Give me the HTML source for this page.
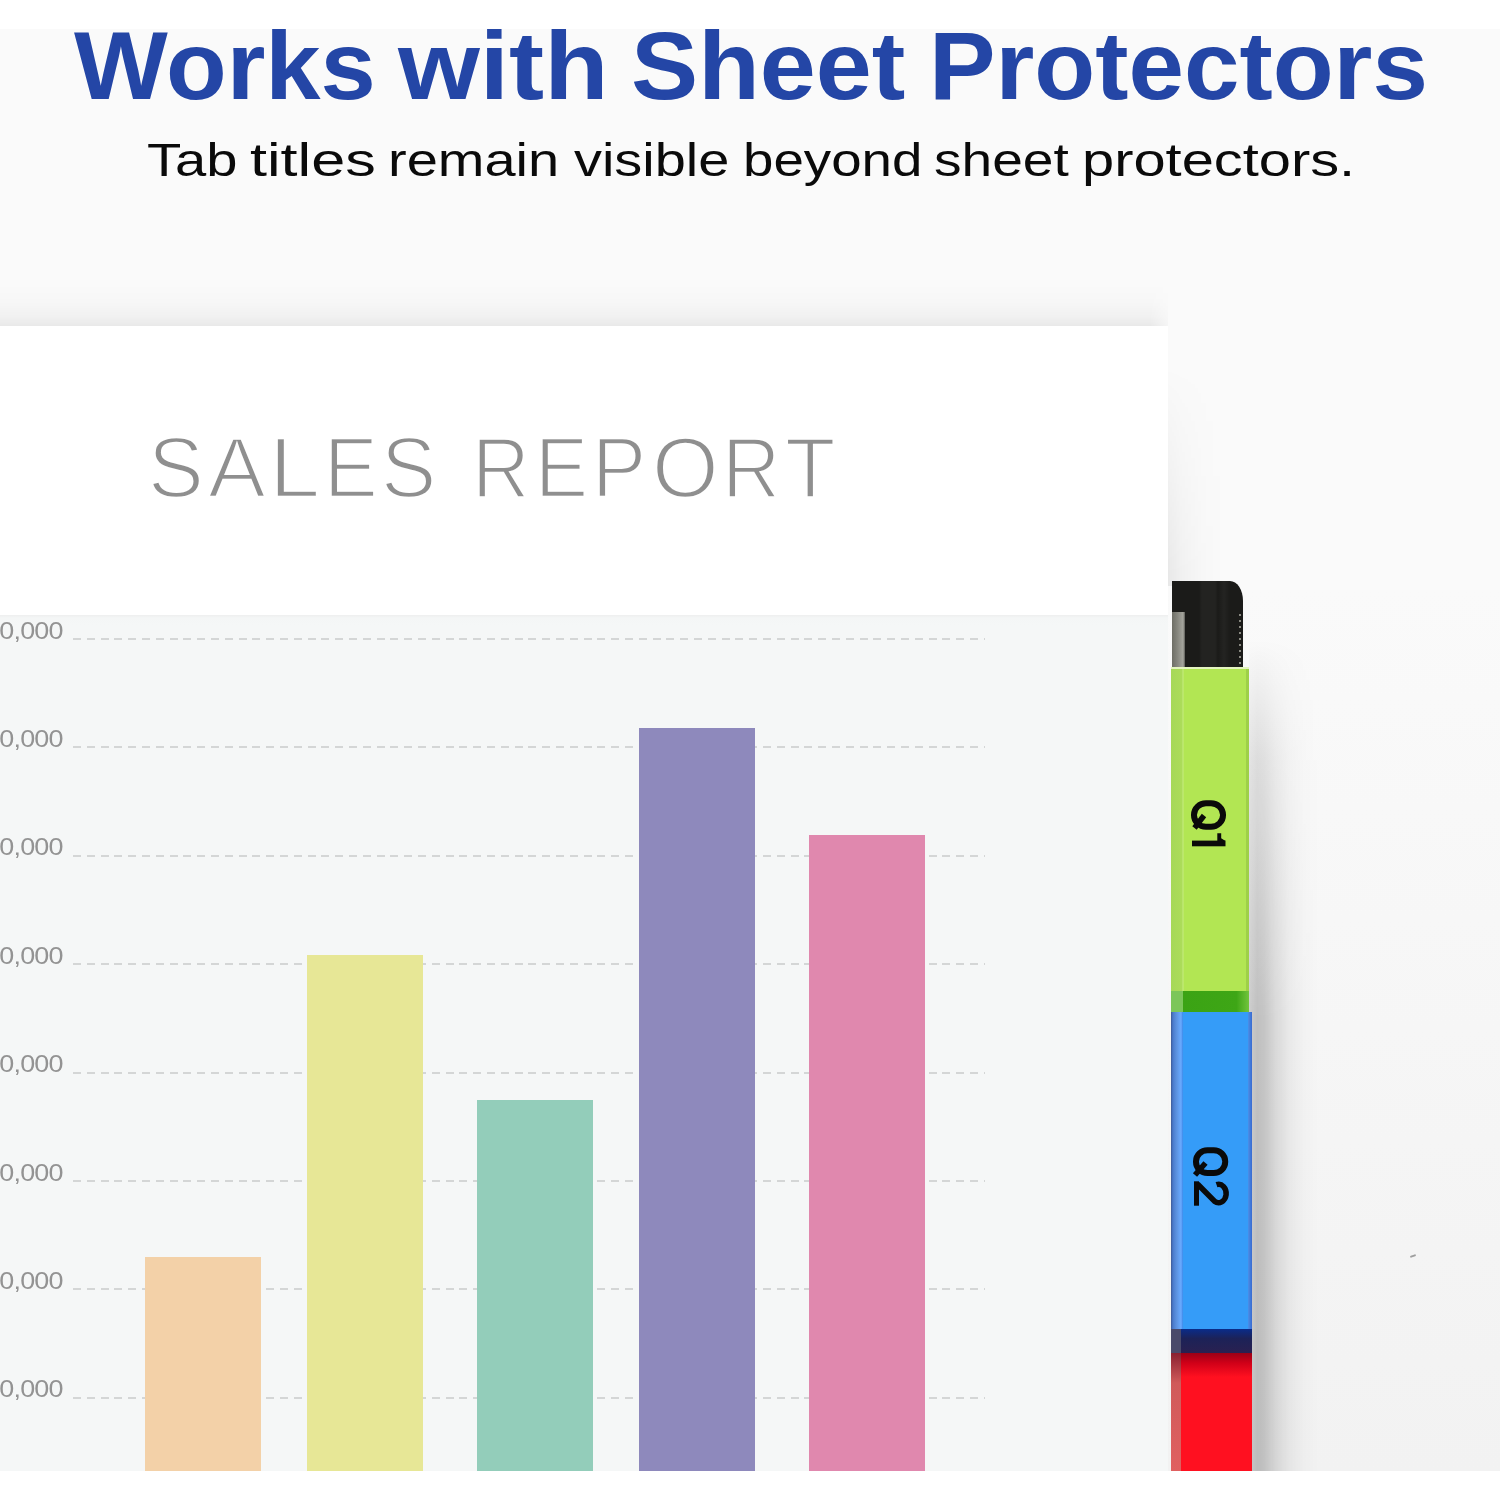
<!DOCTYPE html>
<html>
<head>
<meta charset="utf-8">
<style>
html,body{margin:0;padding:0;}
body{width:1500px;height:1500px;position:relative;overflow:hidden;background:#ffffff;font-family:"Liberation Sans",sans-serif;}
.abs{position:absolute;}
#bg{left:0;top:29px;width:1500px;height:1442px;background:linear-gradient(#fafafa 0,#fafafa 560px,#f6f6f6 1000px,#f2f2f2 1442px);}
#topshadow{left:0;top:284px;width:1168px;-webkit-mask-image:linear-gradient(90deg,#000 1150px,rgba(0,0,0,0.3) 1168px);height:42px;background:linear-gradient(rgba(0,0,0,0) 0,rgba(0,0,0,0.012) 18px,rgba(0,0,0,0.035) 32px,rgba(0,0,0,0.065) 42px);}
.h1{position:absolute;top:16.4px;white-space:nowrap;font-weight:bold;font-size:97px;line-height:100px;color:#2446a6;transform-origin:0 0;}
.sub{position:absolute;top:129.7px;white-space:nowrap;font-size:47px;line-height:60px;color:#0a0a0a;transform-origin:0 0;}
#page{left:0;top:326px;width:1168px;height:1145px;background:#ffffff;}
#chart{left:0;top:615px;width:1168px;height:856px;background:linear-gradient(#eeefef 0,#f4f6f6 3px,#f5f7f7 10px);}
.tl{position:absolute;top:417.5px;white-space:nowrap;font-size:85px;line-height:100px;color:#8f8f8f;transform-origin:0 0;-webkit-text-stroke:2.4px #fff;}
.grid{position:absolute;left:73px;width:912px;height:2px;background:repeating-linear-gradient(90deg,#d4d6d6 0 8px,transparent 8px 13.8px);}
.lab{position:absolute;left:-60px;width:122.8px;text-align:right;font-size:24.5px;transform:scaleX(1.1);transform-origin:100% 0;letter-spacing:-0.7px;line-height:30px;color:#939393;white-space:nowrap;}
.bar{position:absolute;width:116px;}
#tabshadow{left:1249px;top:640px;width:70px;height:831px;background:linear-gradient(90deg,rgba(0,0,0,0.16) 0px,rgba(0,0,0,0.22) 8px,rgba(0,0,0,0.20) 15px,rgba(0,0,0,0.12) 26px,rgba(0,0,0,0.05) 40px,rgba(0,0,0,0.015) 55px,rgba(0,0,0,0) 70px);-webkit-mask-image:linear-gradient(rgba(0,0,0,0) 0px,rgba(0,0,0,0.5) 120px,#000 380px);}
#pageshadow{left:1168px;top:326px;width:60px;height:260px;background:linear-gradient(90deg,rgba(0,0,0,0.07),rgba(0,0,0,0.035) 15px,rgba(0,0,0,0.01) 35px,rgba(0,0,0,0) 55px);-webkit-mask-image:linear-gradient(rgba(0,0,0,0) 40px,rgba(0,0,0,0.5) 150px,#000 250px);}
#tblack{left:1172px;top:581px;width:71px;height:86px;background:#1b1b19;border-top-right-radius:13px 20px;overflow:hidden;}
#tbtex{position:absolute;left:0;top:0;width:71px;height:86px;background:linear-gradient(90deg,rgba(255,255,255,0) 0,rgba(255,255,255,0) 27px,rgba(255,255,255,0.035) 30px,rgba(255,255,255,0.035) 43px,rgba(255,255,255,0) 46px,rgba(255,255,255,0.04) 52px,rgba(255,255,255,0) 58px);}
#tbgray{position:absolute;left:0;top:31px;width:13px;height:55px;background:linear-gradient(90deg,#6e6e66 0,#85857d 40%,#a5a59d 85%,#5a5a55 100%);}
#tbdots{position:absolute;left:66.5px;top:33px;width:2.5px;height:52px;background:repeating-linear-gradient(#8a8a82 0 2px,transparent 2px 6px);}
#tgreen{left:1171px;top:667px;width:78px;height:345px;background:#b2e653;overflow:hidden;}
.strip{position:absolute;left:0;top:0;width:12px;height:100%;}
#gband{position:absolute;left:0;top:324px;width:78px;height:21px;background:linear-gradient(90deg,#7cc65a 0,#7cc65a 12px,#3ba314 12px,#3ea616 84%,#72c43c 100%);}
#gtopline{position:absolute;left:0;top:0;width:78px;height:2px;background:#e4f4c0;}
#gredge{position:absolute;right:0;top:0;width:3px;height:100%;background:#9ed048;}
#tblue{left:1171px;top:1012px;width:81px;height:317px;background:#359cf8;overflow:hidden;}
#bredge{position:absolute;right:0;top:0;width:4px;height:100%;background:linear-gradient(90deg,#4a90e8,#3a6ad0);}
#tnavy{left:1171px;top:1329px;width:81px;height:24px;background:linear-gradient(#0a2c8a 0,#1c2258 40%,#2a2050 100%);}
#tnavystrip{position:absolute;left:0;top:0;width:10px;height:24px;background:#4a4a6a;}
#tred{left:1171px;top:1353px;width:81px;height:118px;background:linear-gradient(#9a0016 0,#d00018 10px,#ff1020 24px,#ff1020 100%);overflow:hidden;}
#bottom{left:0;top:1471px;width:1500px;height:29px;background:#fff;}
</style>
</head>
<body>
<div id="bg" class="abs"></div>
<div id="topshadow" class="abs"></div>
<span class="h1" id="h0" style="left:74.00px;transform:scaleX(1.0241)">Works</span>
<span class="h1" id="h1" style="left:398.00px;transform:scaleX(1.0851)">with</span>
<span class="h1" id="h2" style="left:630.88px;transform:scaleX(1.0385)">Sheet</span>
<span class="h1" id="h3" style="left:928.81px;transform:scaleX(1.0284)">Protectors</span>
<span class="sub" id="s0" style="left:146.81px;transform:scaleX(1.1946)">Tab</span>
<span class="sub" id="s1" style="left:249.70px;transform:scaleX(1.3012)">titles</span>
<span class="sub" id="s2" style="left:388.43px;transform:scaleX(1.1913)">remain</span>
<span class="sub" id="s3" style="left:574.01px;transform:scaleX(1.1891)">visible</span>
<span class="sub" id="s4" style="left:742.51px;transform:scaleX(1.1634)">beyond</span>
<span class="sub" id="s5" style="left:933.66px;transform:scaleX(1.1714)">sheet</span>
<span class="sub" id="s6" style="left:1082.31px;transform:scaleX(1.2302)">protectors.</span>
<div id="page" class="abs"></div>
<span class="tl" style="left:148.09px;transform:scaleX(0.9845)">S</span><span class="tl" style="left:207.94px;transform:scaleX(1.0182)">A</span><span class="tl" style="left:269.34px;transform:scaleX(1.0830)">L</span><span class="tl" style="left:324.39px;transform:scaleX(0.9476)">E</span><span class="tl" style="left:381.13px;transform:scaleX(0.9742)">S</span><span class="tl" style="left:472.48px;transform:scaleX(0.9404)">R</span><span class="tl" style="left:534.53px;transform:scaleX(0.9354)">E</span><span class="tl" style="left:592.37px;transform:scaleX(0.9565)">P</span><span class="tl" style="left:651.96px;transform:scaleX(1.0077)">O</span><span class="tl" style="left:722.41px;transform:scaleX(0.9515)">R</span><span class="tl" style="left:785.10px;transform:scaleX(0.9732)">T</span>
<div id="chart" class="abs"></div>
<div class="lab" style="top:615.5px">0,000</div><div class="lab" style="top:723.9px">0,000</div><div class="lab" style="top:832.3px">0,000</div><div class="lab" style="top:940.7px">0,000</div><div class="lab" style="top:1049.1px">0,000</div><div class="lab" style="top:1157.5px">0,000</div><div class="lab" style="top:1265.9px">0,000</div><div class="lab" style="top:1374.3px">0,000</div><div class="grid" style="top:638.0px"></div><div class="grid" style="top:746.4px"></div><div class="grid" style="top:854.8px"></div><div class="grid" style="top:963.2px"></div><div class="grid" style="top:1071.6px"></div><div class="grid" style="top:1180.0px"></div><div class="grid" style="top:1288.4px"></div><div class="grid" style="top:1396.8px"></div>
<div class="bar" style="left:145px;top:1257px;height:214px;background:#f3d1a8"></div><div class="bar" style="left:307px;top:955px;height:516px;background:#e7e796"></div><div class="bar" style="left:477px;top:1100px;height:371px;background:#93cdba"></div><div class="bar" style="left:639px;top:728px;height:743px;background:#8e89bc"></div><div class="bar" style="left:809px;top:835px;height:636px;background:#e088ae"></div>

<div id="tabshadow" class="abs"></div>
<div id="pageshadow" class="abs"></div>
<div id="tblack" class="abs"><div id="tbtex"></div><div id="tbgray"></div><div id="tbdots"></div></div>
<div id="tgreen" class="abs"><div class="strip" style="width:13px;background:linear-gradient(90deg,#a6d858 0,#acdc5a 11px,#c6ec80 12px,#b2e653 13px)"></div><div id="gredge"></div><div id="gband"></div><div id="gtopline"></div></div>
<div id="tblue" class="abs"><div class="strip" style="width:12px;background:linear-gradient(90deg,#3f5a95 0,#4a7acc 2px,#5a8fdc 5px,#6aaaff 10px,#3a88e8 12px)"></div><div id="bredge"></div></div>
<div id="tnavy" class="abs"><div id="tnavystrip"></div></div>
<div id="tred" class="abs"><div class="strip" style="width:10px;background:linear-gradient(#8a2030,#d05a5a 30px,#e06060)"></div></div>
<svg class="abs" style="left:0;top:0" width="1500" height="1500" viewBox="0 0 1500 1500">
<g fill="none" stroke="#0a0a0a" stroke-width="6">
<rect x="1194" y="803.2" width="29" height="23.5" rx="12" ry="11.5"/>
<line x1="1194.5" y1="828" x2="1204" y2="815.5" stroke-width="5.5"/>
<rect x="1196" y="1150.3" width="29.2" height="22.8" rx="11.5" ry="11"/>
<line x1="1195" y1="1175" x2="1205.5" y2="1163" stroke-width="5.5"/>
<path d="M1196.5,1181.3 V1205.7" stroke-width="5"/>
<path d="M1197.5,1184 L1214.5,1201.2 A7.6,9.2 0 1 0 1216.5,1184.6" stroke-width="5.5"/>
</g>
<g fill="#0a0a0a">
<rect x="1192" y="840.6" width="33.5" height="5.7"/>
<path d="M1217.3,833.3 H1221.2 V838.2 L1225.5,841 H1217.3 Z"/>
</g>
</svg>
<div class="abs" style="left:1410px;top:1255px;width:6px;height:2px;border-radius:1px;background:#888;transform:rotate(-18deg);opacity:0.8"></div>
<div id="bottom" class="abs"></div>
</body>
</html>
